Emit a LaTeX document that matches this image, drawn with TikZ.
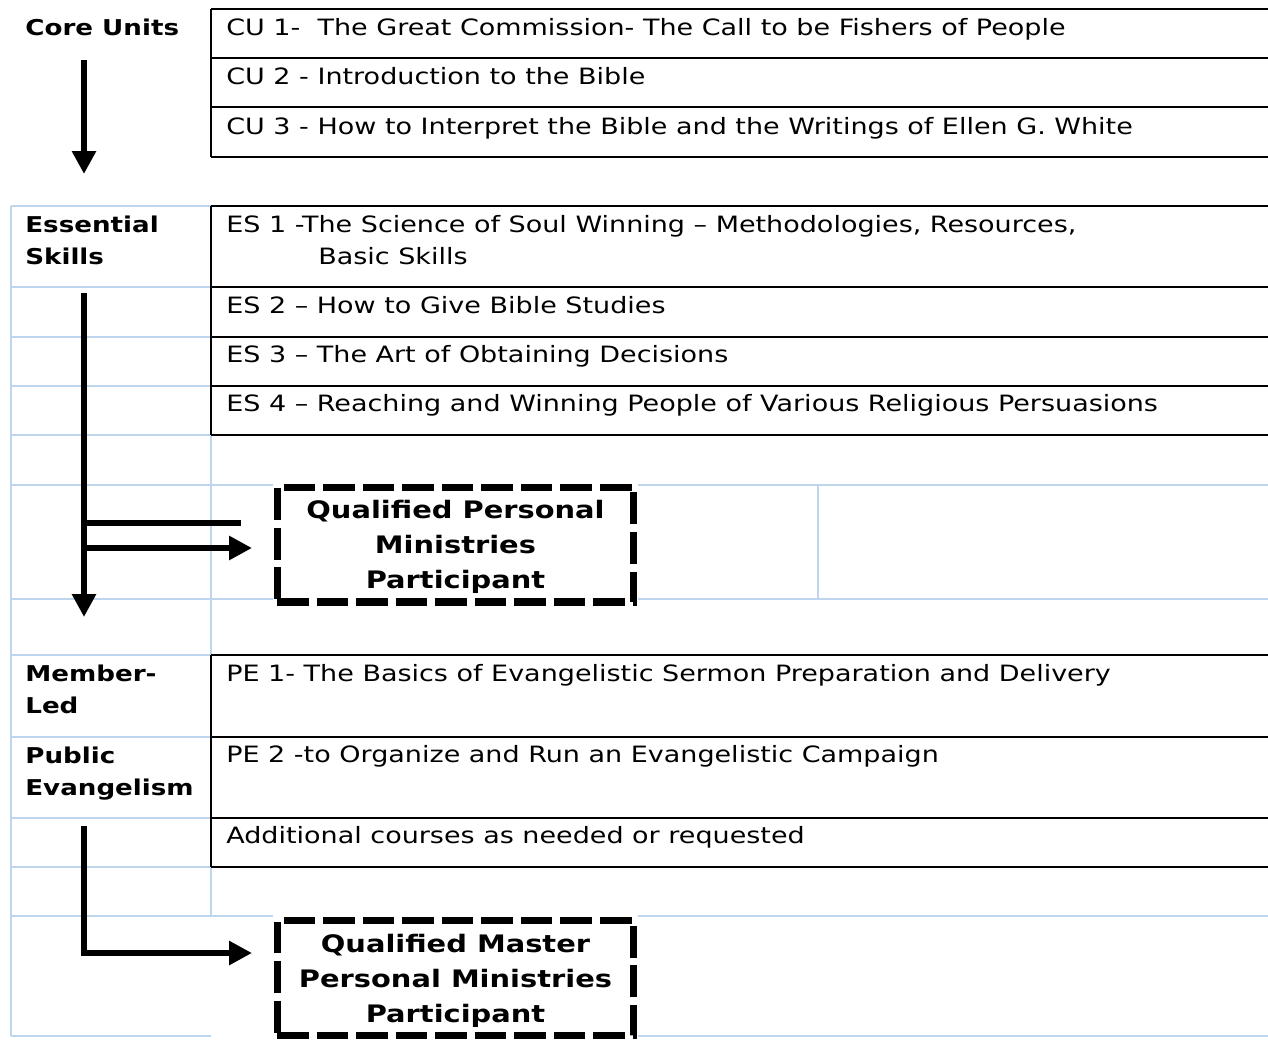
\documentclass[tikz,border=0pt]{standalone}
\usepackage{fontspec}
\setmainfont[FakeStretch=1.2]{DejaVu Sans}
\usepackage{tikz}
\usetikzlibrary{arrows.meta}
\definecolor{gridblue}{RGB}{189,214,238}
\tikzstyle{course} = [anchor=base west, inner sep=0pt, align=left, font=\fontsize{12.8}{18.1}\selectfont]
\tikzstyle{unitlabel} = [anchor=base west, inner sep=0pt, align=left, font=\bfseries\fontsize{12.4}{18.1}\selectfont]
\tikzstyle{qualbox} = [rectangle, draw=black, fill=white, line width=4pt, dash pattern=on 18pt off 4.5pt, minimum width=7.14cm, minimum height=2.3cm, text depth=0pt, align=center, font=\bfseries\fontsize{13.7}{20}\selectfont]
\tikzstyle{arrow} = [line width=3.7pt, -{Triangle[length=0.46cm,width=0.46cm]}]
\tikzstyle{bar} = [line width=3.7pt]
\tikzstyle{blackline} = [line width=1.4pt]
\tikzstyle{blueline} = [gridblue, line width=1.2pt]

\begin{document}
\begin{tikzpicture}[x=0.02cm, y=-0.02cm]
        \useasboundingbox (0,0) rectangle (1268,1039);
        % grid of the lower table
        \foreach \y in {206,287,337,386,435,655,737,818,867,1036}
            \draw [blueline] (11,\y) -- (211,\y);
        \foreach \y in {485,599,916}
            \draw [blueline] (11,\y) -- (273,\y);
        \foreach \y in {485,599,916,1036}
            \draw [blueline] (638,\y) -- (1268,\y);
        \draw [blueline] (11,206) -- (11,1036);
        \draw [blueline] (211,435) -- (211,655);
        \draw [blueline] (211,867) -- (211,916);
        \draw [blueline] (818,485) -- (818,599);
        % course rows
        \foreach \y in {9,58,107,157,206,287,337,386,435,655,737,818,867}
            \draw [blackline] (211,\y) -- (1268,\y);
        \draw [blackline] (211,9) -- (211,157);
        \draw [blackline] (211,206) -- (211,435);
        \draw [blackline] (211,655) -- (211,867);

        \node (core) [unitlabel] at (25,35) {Core Units};
        \node (cu1) [course] at (226,35) {CU 1-\ \ The Great Commission- The Call to be Fishers of People};
        \node (cu2) [course] at (226,84) {CU 2 - Introduction to the Bible};
        \node (cu3) [course] at (226,134) {CU 3 - How to Interpret the Bible and the Writings of Ellen G. White};

        % two-line nodes sit on the baseline of their last line
        \node (essential) [unitlabel] at (25,264) {Essential\\Skills};
        \node (es1) [course] at (226,264) {ES 1 -The Science of Soul Winning – Methodologies, Resources,\\\hspace*{1.84cm}Basic Skills};
        \node (es2) [course] at (226,313) {ES 2 – How to Give Bible Studies};
        \node (es3) [course] at (226,362) {ES 3 – The Art of Obtaining Decisions};
        \node (es4) [course] at (226,411) {ES 4 – Reaching and Winning People of Various Religious Persuasions};

        \node (member) [unitlabel] at (25,713) {Member-\\Led};
        \node (public) [unitlabel] at (25,795) {Public\\Evangelism};
        \node (pe1) [course] at (226,681) {PE 1- The Basics of Evangelistic Sermon Preparation and Delivery};
        \node (pe2) [course] at (226,762) {PE 2 -to Organize and Run an Evangelistic Campaign};
        \node (addl) [course] at (226,843) {Additional courses as needed or requested};

        \node (qpm) [qualbox] at (455.5,544.5) {Qualified Personal\\Ministries\\Participant};
        \node (qmpm) [qualbox] at (455.5,978) {Qualified Master\\Personal Ministries\\Participant};

        \coordinate (cutop) at (84,60);
        \coordinate (cutip) at (84,174);
        \coordinate (estop) at (84,293);
        \coordinate (estip) at (84,617);
        \coordinate (stub) at (241,523);
        \coordinate (petop) at (84,826);
        \coordinate (qpmin) at ([yshift=-0.07cm]qpm.west);
        \coordinate (qmpmin) at ([yshift=0.5cm]qmpm.west);
        \draw [arrow] (cutop) -- (cutip);
        \draw [arrow] (estop) -- (estip);
        \draw [bar] (estop |- stub) -- (stub);
        \draw [arrow, shorten >=0.43cm] (estop |- qpmin) -- (qpmin);
        \draw [arrow, shorten >=0.43cm] (petop) |- (qmpmin);
\end{tikzpicture}
\end{document}
